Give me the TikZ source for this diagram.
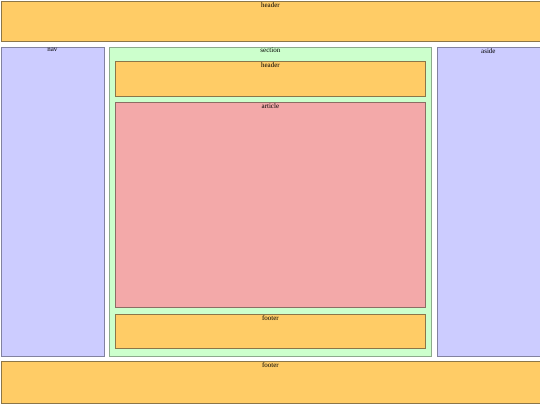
\documentclass[tikz,border=0pt]{standalone}
\usepackage{fontspec}
\setmainfont{Liberation Serif}
\begin{document}
\begin{tikzpicture}[x=1pt,y=-1pt]
    \tikzset{block/.style={rectangle, draw, line width=0.8pt, inner sep=0pt, anchor=north west, font=\fontsize{7}{8}\selectfont}}
    \tikzset{tag/.style={label={[inner sep=1pt, anchor=north, font=\fontsize{7}{8}\selectfont]north:#1}}}
    \tikzset{orange/.style={block, fill={rgb,255:red,255;green,204;blue,102}, draw={rgb,255:red,140;green,118;blue,72}}}
    \tikzset{blue/.style={block, fill={rgb,255:red,204;green,204;blue,255}, draw={rgb,255:red,130;green,130;blue,160}}}
    \tikzset{green/.style={block, fill={rgb,255:red,204;green,255;blue,204}, draw={rgb,255:red,140;green,170;blue,140}}}
    \tikzset{red/.style={block, fill={rgb,255:red,243;green,169;blue,169}, draw={rgb,255:red,140;green,110;blue,100}}}
    \useasboundingbox[fill=white] (0,0) rectangle (540,405);

    \node[orange, tag=header, minimum width=539pt, minimum height=40pt] (hdr) at (0.5,1) {};

    \node[blue, tag=nav, minimum width=103pt, minimum height=309pt] (nav) at (0.5,47) {};
    \node[green, tag=section, minimum width=322pt, minimum height=309pt] (sec) at (109,47) {};
    \node[blue, tag=aside, minimum width=103pt, minimum height=309pt] (aside) at (436.5,47) {};

    \node[orange, tag=header, minimum width=310pt, minimum height=35pt] (sechdr) at (115,61) {};
    \node[red, tag=article, minimum width=310pt, minimum height=205pt] (art) at (115,102) {};
    \node[orange, tag=footer, minimum width=310pt, minimum height=34pt] (secftr) at (115,314) {};

    \node[orange, tag=footer, minimum width=539pt, minimum height=42pt] (ftr) at (0.5,361) {};
  \end{tikzpicture}
\end{document}
